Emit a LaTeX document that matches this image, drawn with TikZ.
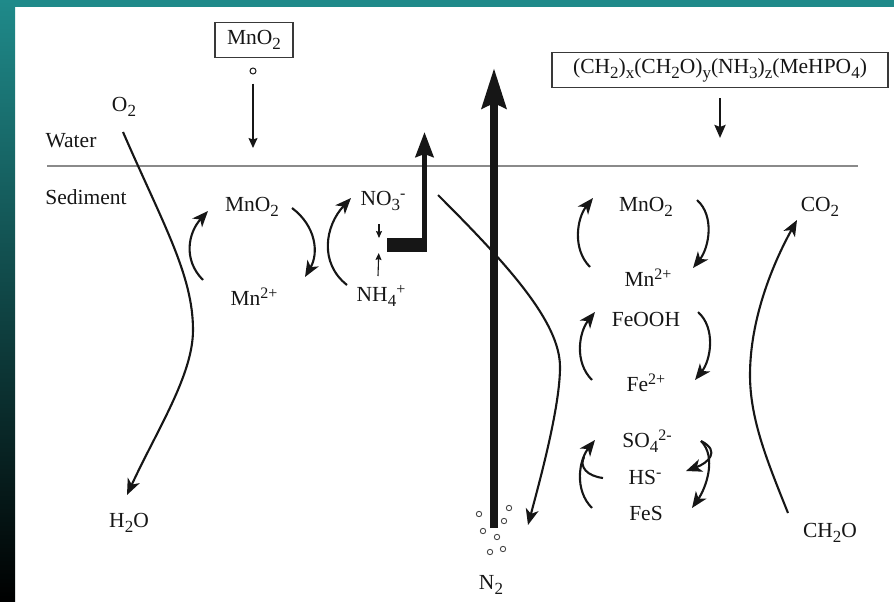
\documentclass[tikz,border=0pt]{standalone}
\usepackage{fontspec}
\setmainfont{Liberation Serif}
\usetikzlibrary{arrows.meta,calc}

\definecolor{ink}{HTML}{161616}
\definecolor{framecol}{HTML}{1F8A8A}
\definecolor{rulegray}{HTML}{8A8A8A}
\newcommand{\chemsize}{\fontsize{21.5}{25}\selectfont}
\newcommand{\chemsub}[1]{\raisebox{-5pt}{\fontsize{17}{17}\selectfont #1}}
\newcommand{\chemsup}[1]{\raisebox{7pt}{\fontsize{16}{16}\selectfont #1}}

\begin{document}
\begin{tikzpicture}[
  x=1pt, y=-1pt,
  chem/.style={font=\chemsize, text=ink, inner sep=1pt},
  boxed/.style={chem, draw=ink!85, line width=1.2pt, inner ysep=6pt},
  turnover/.style={draw=ink, line width=2.1pt, -{Stealth[length=16pt,width=13pt,inset=4.5pt]}},
  settle/.style={draw=ink, line width=1.3pt, -{Stealth[length=10pt,width=9pt,inset=1.5pt]}},
  tick/.style={draw=ink, line width=1.1pt, -{Stealth[length=7pt,width=6pt,inset=1pt]}},
  surface/.style={draw=rulegray, line width=1.5pt},
  bubble/.style={draw=ink!80, line width=0.9pt}
]
\useasboundingbox (0,0) rectangle (894,602);
% frame
\fill[framecol] (0,0) rectangle (894,7);
\shade[top color=framecol, bottom color=black] (0,0) rectangle (15,602);

% inputs from the water column
\node[boxed, minimum width=78pt, minimum height=35pt] (mnsrc) at (254,40) {MnO\chemsub{2}};
\node[draw=ink, circle, line width=1pt, inner sep=0pt, minimum size=6pt] (pellet) at (253,71) {};
\coordinate (mnland) at (253,148);
\draw[settle, shorten <=9pt] (pellet) -- (mnland);

\node[boxed, minimum width=336pt, minimum height=34pt] (om) at (720,70) {(CH\chemsub{2})\chemsub{x}(CH\chemsub{2}O)\chemsub{y}(NH\chemsub{3})\chemsub{z}(MeHPO\chemsub{4})};
\coordinate (omland) at (720,138);
\draw[draw=ink, line width=2.5pt, -{Stealth[length=13pt,width=11pt,inset=2pt]}, shorten <=10pt] (om) -- (omland);

% water / sediment
\node[chem] (water) at (71,141) {Water};
\node[chem] (sediment) at (86,197) {Sediment};
\coordinate (surfL) at (47,166);
\coordinate (surfR) at (858,166);
\draw[surface] (surfL) -- (surfR);

% oxygen
\node[chem] (o2) at (124,107) {O\chemsub{2}};
\node[chem] (h2o) at (129,523) {H\chemsub{2}O};
\draw[turnover] ($(o2)+(-1,25)$) .. controls +(40,92) and +(0,-55) .. (193,330)
  .. controls +(0,45) and +(30,-65) .. ($(h2o)+(-2,-28)$);

% manganese (left)
\node[chem] (mna) at (252,207) {MnO\chemsub{2}};
\node[chem] (mnb) at (254,297) {Mn\chemsup{2+}};
\draw[turnover] ($(mnb)+(-51,-17)$) .. controls +(-20,-20) and +(-20,22) .. ($(mna)+(-44,4)$);
\draw[turnover] ($(mna)+(40,1)$) .. controls +(24,18) and +(14,-24) .. ($(mnb)+(51,-20)$);

% nitrogen
\node[chem] (no3) at (383,201) {NO\chemsub{3}\chemsup{-}};
\node[chem] (nh4) at (381,296) {NH\chemsub{4}\chemsup{+}};
\draw[turnover] ($(nh4)+(-34,-11)$) .. controls +(-28,-22) and +(-26,28) .. ($(no3)+(-32,-3)$);
\coordinate (nmeet) at (379,245);
\draw[tick, shorten >=7pt] ($(no3)+(-4,23)$) -- (nmeet);
\draw[tick, shorten >=8pt] ($(nh4)+(-3,-20)$) -- (nmeet);
\coordinate (nitr) at (387,245);
\coordinate (nitrtop) at (424.5,132);
\draw[ink, line width=14pt] (nitr) -- ++(40,0);
\draw[ink, line width=5pt, -{Stealth[length=25pt,width=18pt,inset=3pt]}] ($(nitr)+(37.5,7)$) -- (nitrtop);

% denitrification
\node[chem] (n2) at (491,585) {N\chemsub{2}};
\coordinate (n2top) at (494,68);
\draw[ink, line width=8pt, -{Stealth[length=40pt,width=24pt,inset=5pt]}] ($(n2)+(3,-57)$) -- (n2top);
\foreach \bx/\by in {479/514, 509/508, 504/521, 483/531, 497/537, 490/552, 503/549}
  \draw[bubble] (\bx,\by) circle (2.7);
\draw[turnover] ($(no3)+(55,-6)$) .. controls +(70,70) and +(0,-45) .. (560,367)
  .. controls +(0,40) and +(12,-45) .. ($(n2)+(37,-60)$);

% manganese / iron / sulfur (right)
\node[chem] (mnc) at (646,207) {MnO\chemsub{2}};
\node[chem] (mnd) at (648,278) {Mn\chemsup{2+}};
\node[chem] (feooh) at (646,319) {FeOOH};
\node[chem] (fe2) at (646,383) {Fe\chemsup{2+}};
\node[chem] (so4) at (647,441) {SO\chemsub{4}\chemsup{2-}};
\node[chem] (hs) at (645,477) {HS\chemsup{-}};
\node[chem] (fes) at (646,513) {FeS};

\draw[turnover] ($(mnd)+(-58,-11)$) .. controls +(-18,-18) and +(-16,20) .. ($(mnc)+(-53,-9)$);
\draw[turnover] ($(mnc)+(51,-7)$) .. controls +(18,16) and +(16,-20) .. ($(mnd)+(45,-10)$);
\draw[turnover] ($(fe2)+(-54,-3)$) .. controls +(-18,-18) and +(-16,20) .. ($(feooh)+(-51,-7)$);
\draw[turnover] ($(feooh)+(52,-7)$) .. controls +(18,16) and +(16,-20) .. ($(fe2)+(49,-3)$);
\draw[turnover] ($(fes)+(-54,-5)$) .. controls +(-18,-18) and +(-16,20) .. ($(so4)+(-52,-1)$);
\draw[ink, line width=2.1pt] ($(hs)+(-42,1)$) .. controls +(-16,-2) and +(-5,10) .. ($(so4)+(-63,16)$);
\draw[turnover] ($(so4)+(54,0)$) .. controls +(16,16) and +(14,-20) .. ($(fes)+(46,-5)$);
\draw[turnover] ($(so4)+(54,0)$) .. controls +(20,10) and +(22,-8) .. ($(hs)+(41,-6)$);

% organic carbon
\node[chem] (co2) at (820,207) {CO\chemsub{2}};
\node[chem] (ch2o) at (830,533) {CH\chemsub{2}O};
\draw[turnover] ($(ch2o)+(-42,-20)$) .. controls +(-20,-50) and +(0,45) .. (750,375)
  .. controls +(0,-55) and +(-25,45) .. ($(co2)+(-23,13)$);
\end{tikzpicture}
\end{document}
